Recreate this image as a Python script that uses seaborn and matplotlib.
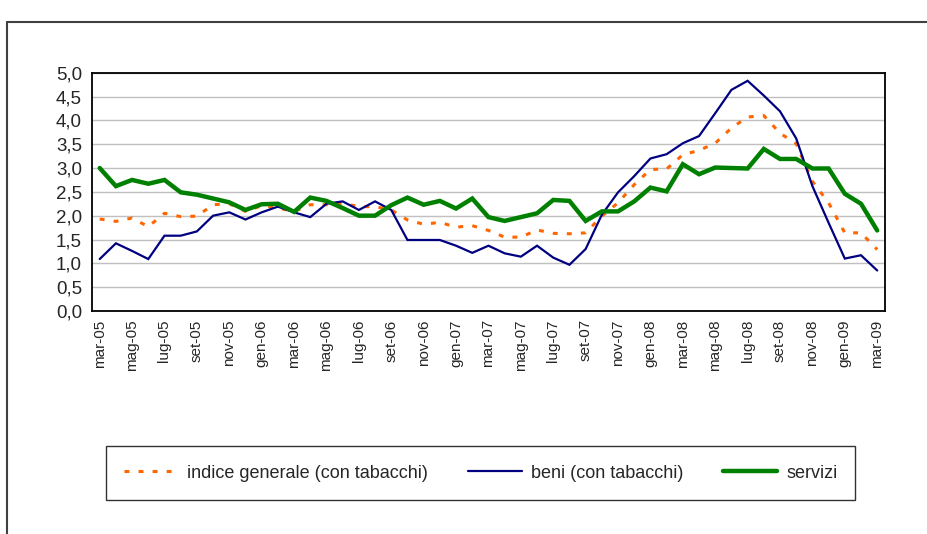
import numpy as np
import pandas as pd
import matplotlib
matplotlib.use("Agg")
import matplotlib.pyplot as plt
from matplotlib.lines import Line2D
import seaborn as sns

# Monthly periods, March 2005 - March 2009
mesi = ["gen", "feb", "mar", "apr", "mag", "giu", "lug", "ago", "set", "ott", "nov", "dic"]
periodi = [f"{mesi[(2 + k) % 12]}-{(5 + (2 + k) // 12):02d}" for k in range(49)]

indice_generale = [1.93, 1.88, 1.95, 1.77, 2.05, 1.98, 1.99, 2.23, 2.25, 2.09,
                   2.21, 2.16, 2.09, 2.23, 2.23, 2.26, 2.19, 2.19, 2.12, 1.91,
                   1.82, 1.86, 1.76, 1.79, 1.69, 1.55, 1.55, 1.70, 1.63, 1.62,
                   1.64, 1.99, 2.27, 2.65, 2.97, 2.98, 3.28, 3.37, 3.52, 3.84,
                   4.07, 4.10, 3.73, 3.51, 2.72, 2.27, 1.64, 1.64, 1.29]
beni = [1.09, 1.42, 1.26, 1.09, 1.58, 1.58, 1.67, 2.00, 2.07, 1.92,
        2.07, 2.19, 2.07, 1.97, 2.25, 2.30, 2.12, 2.30, 2.12, 1.49,
        1.49, 1.49, 1.37, 1.22, 1.37, 1.21, 1.14, 1.37, 1.12, 0.97,
        1.30, 2.02, 2.49, 2.83, 3.20, 3.29, 3.52, 3.67, 4.15, 4.64,
        4.83, 4.52, 4.19, 3.62, 2.62, 1.85, 1.10, 1.17, 0.85]
servizi = [3.00, 2.62, 2.75, 2.67, 2.75, 2.49, 2.44, 2.36, 2.28, 2.12,
           2.24, 2.25, 2.08, 2.38, 2.31, 2.16, 2.00, 2.00, 2.22, 2.38,
           2.23, 2.31, 2.15, 2.36, 1.97, 1.89, 1.97, 2.05, 2.33, 2.31,
           1.89, 2.09, 2.09, 2.30, 2.59, 2.51, 3.08, 2.87, 3.01, 3.00,
           2.99, 3.40, 3.19, 3.19, 2.99, 2.99, 2.46, 2.25, 1.69]

serie = ["indice generale (con tabacchi)", "beni (con tabacchi)", "servizi"]
colori = ["#FF6600", "#000080", "#008000"]
spessori = [2.2, 1.6, 3.2]

sns.set_style("white")
plt.rcParams["font.family"] = ["Liberation Sans", "DejaVu Sans"]

df = pd.DataFrame({
    "pos": np.tile(np.arange(len(periodi)), 3),
    "valore": indice_generale + beni + servizi,
    "serie": np.repeat(serie, len(periodi)),
})

fig = plt.figure(figsize=(9.28, 5.34), dpi=100)
ax = fig.add_axes([91.6 / 928, 1 - 311 / 534, (885.3 - 91.6) / 928, (311 - 72.7) / 534])

for nome, col, lw in zip(serie, colori, spessori):
    sub = df[df["serie"] == nome]
    sns.lineplot(data=sub, x="pos", y="valore", ax=ax, color=col, linewidth=lw,
                 label=nome, legend=False)

linee = ax.get_lines()
linee[0].set_dashes([1.6, 3.0])
linee[0].set_dash_capstyle("butt")
for ln in linee:
    ln.set_solid_joinstyle("miter")

ax.set_xlim(-0.5, len(periodi) - 0.5)
ax.set_ylim(0, 5.0)
ax.set_xlabel("")
ax.set_ylabel("")

# Horizontal gridlines
yt = np.arange(0, 5.01, 0.5)
ax.set_yticks(yt)
ax.set_yticklabels([f"{v:.1f}".replace(".", ",") for v in yt], fontsize=13.5)
ax.yaxis.grid(True, color="#C0C0C0", linewidth=1.0)
ax.xaxis.grid(False)
ax.set_axisbelow(True)

# Category labels every two months, tick marks between categories
ax.set_xticks(np.arange(0, len(periodi), 2))
ax.set_xticklabels(periodi[::2], rotation=90, fontsize=11)
ax.set_xticks(np.arange(-0.5, len(periodi), 2), minor=True)
ax.tick_params(axis="x", which="major", length=0, pad=6)
ax.tick_params(axis="x", which="minor", length=5, width=1.2, color="black", direction="out")
ax.tick_params(axis="y", which="major", length=5, width=1.2, color="black", direction="out", pad=2)

for s in ax.spines.values():
    s.set_visible(True)
    s.set_color("black")
    s.set_linewidth(1.3)

leg = fig.legend(handles=linee, labels=serie, loc="center",
                 bbox_to_anchor=(480.5 / 928, 1 - 473 / 534), ncol=3,
                 fontsize=13, frameon=True, fancybox=False, edgecolor="black",
                 handlelength=3.0, handletextpad=0.5, columnspacing=2.2,
                 borderpad=1.0)
leg.get_frame().set_linewidth(1.0)

# Outer chart border
fig.add_artist(Line2D([7 / 928, 7 / 928], [0, 1 - 22 / 534], transform=fig.transFigure,
                      color="#404040", linewidth=1.5))
fig.add_artist(Line2D([7 / 928, 1], [1 - 22 / 534, 1 - 22 / 534], transform=fig.transFigure,
                      color="#404040", linewidth=1.5))

fig.savefig("out.png", dpi=100)
